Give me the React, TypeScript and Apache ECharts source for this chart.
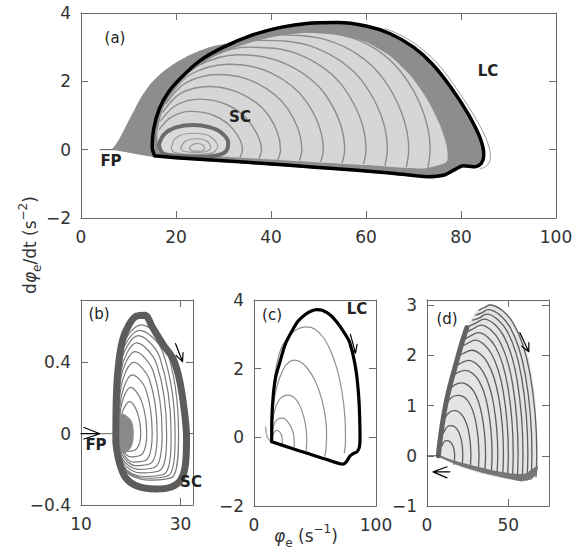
import React, { useEffect, useRef } from 'react';
import * as echarts from 'echarts';

const FONT = 'DejaVu Sans';

// ---------- Panel (a) ----------
const aRegionGray = [[6.5,0],[8,0.3],[9.5,0.7],[11,1.1],[12.5,1.5],[14.5,1.9],[17,2.25],[20,2.55],[23,2.78],[27,3.0],[31,3.12],[36,3.4],[42,3.62],[48,3.74],[54,3.76],[60,3.66],[65,3.44],[70,3.04],[74,2.54],[78,1.84],[81.5,1.09],[84.2,0.38],[85,-0.15],[84.5,-0.43],[83,-0.53],[80.5,-0.5],[78.5,-0.63],[76.5,-0.78],[73,-0.83],[65,-0.72],[50,-0.56],[35,-0.41],[20,-0.28],[15.2,-0.21],[6.5,0]];
const aStripe = [[16.3,-0.06],[16.1,0.5],[17.3,1.2],[20.3,1.9],[24.8,2.5],[30,2.86],[36,3.15],[42,3.34],[48,3.42],[54,3.38],[60,3.15],[65,2.75],[69.5,2.15],[73,1.45],[75.5,0.75],[77,0.1],[77,-0.35],[72,-0.55],[60,-0.45],[45,-0.33],[30,-0.21],[20,-0.13],[16.3,-0.06]];
const aArcs = [
  [[16.5,0.6],[19,0.95],[23,1.12],[28,1.0],[32,0.6],[34,0.0],[33.5,-0.22]],
  [[16.8,0.85],[20,1.3],[25,1.48],[31,1.3],[35.5,0.8],[38,0.0],[37.5,-0.25]],
  [[17.2,1.1],[21,1.65],[27,1.85],[34,1.62],[39.5,1.0],[42,0.0],[41.5,-0.28]],
  [[17.9,1.35],[22,1.95],[29,2.2],[37,1.95],[43.5,1.2],[46.5,0.0],[46,-0.31]],
  [[18.8,1.6],[23,2.2],[31,2.5],[40,2.25],[47.5,1.4],[51,0.0],[50.5,-0.34]],
  [[19.8,1.85],[24.5,2.45],[33,2.78],[43,2.52],[51.5,1.6],[55.5,0.0],[55,-0.38]],
  [[21,2.05],[26,2.62],[35,3.0],[46,2.78],[55.5,1.78],[60,0.0],[59.5,-0.41]],
  [[23,2.3],[29,2.82],[37.5,3.2],[49,3.0],[59.5,1.95],[64.5,0.0],[64,-0.45]],
  [[25.2,2.55],[31.5,3.0],[40,3.36],[52,3.2],[63.5,2.1],[69,0.0],[68.5,-0.5]],
  [[27.5,2.75],[33,3.12],[42,3.46],[55,3.35],[67.5,2.25],[73.5,0.0],[73,-0.55]],
  [[29.5,2.92],[35,3.25],[45,3.58],[58,3.45],[71.5,2.35],[78,0.0],[77.5,-0.6]],
];
const aSC = [[16.4,0.15],[17.5,0.45],[20,0.65],[23.6,0.72],[27,0.66],[29.5,0.5],[31,0.2],[30.5,-0.05],[28.5,-0.17],[25,-0.21],[20,-0.18],[17.2,-0.1],[16.4,0.15]];
const aSCInner = [
  [[19,0.05],[20,0.35],[23.5,0.48],[27,0.4],[28.8,0.1],[27.5,-0.1],[23.5,-0.14],[19.5,-0.07],[19,0.05]],
  [[21,0.05],[22,0.25],[24.3,0.32],[26.5,0.25],[27.3,0.05],[26.2,-0.06],[24,-0.08],[21.5,-0.04],[21,0.05]],
  [[22.8,0.04],[23.5,0.15],[24.7,0.18],[25.8,0.12],[26,0.02],[25.2,-0.04],[23.5,-0.04],[22.8,0.04]],
];
const aOuterThin = [[64,3.55],[68,3.3],[72,2.92],[75.5,2.45],[79,1.8],[82.5,1.05],[85.2,0.35],[86.2,-0.2],[85.6,-0.45],[84,-0.57]];
const aLC = [[15.5,-0.18],[15.0,0.05],[15.3,0.6],[16.5,1.2],[18.5,1.7],[21,2.1],[25,2.6],[30,3.0],[36,3.35],[42,3.58],[48,3.7],[54,3.72],[60,3.62],[65,3.4],[70,3.0],[74,2.5],[78,1.8],[81.5,1.05],[84,0.35],[84.8,-0.15],[84.3,-0.4],[83,-0.5],[80.5,-0.47],[78.5,-0.6],[76.5,-0.74],[73,-0.79],[65,-0.68],[50,-0.52],[35,-0.37],[20,-0.24],[15.5,-0.18]];
const aFP = [[4,0],[6.8,0]];

// ---------- Panel (b) ----------
const bSC = [[17.0,-0.05],[17.05,0.15],[17.4,0.35],[18.3,0.52],[19.6,0.61],[21.2,0.66],[22.8,0.665],[24.3,0.6],[26.5,0.5],[28.5,0.42],[29.8,0.3],[30.8,0.12],[31.2,-0.02],[31.0,-0.17],[30,-0.26],[28,-0.3],[25,-0.31],[21,-0.29],[18.8,-0.24],[17.6,-0.15],[17.0,-0.05]];
const bLoops = [
  [[17.8,0],[18.3,0.12],[19.8,0.18],[21.3,0.12],[22,0],[21.3,-0.08],[19.5,-0.1],[18.2,-0.06],[17.8,0]],
  [[17.7,0],[18.2,0.17],[20,0.26],[22.2,0.18],[23.2,0],[22.4,-0.11],[20,-0.13],[18.2,-0.08],[17.7,0]],
  [[17.6,0],[18.2,0.22],[20.3,0.33],[23,0.25],[24.3,0],[23.4,-0.14],[20.5,-0.16],[18.3,-0.1],[17.6,0]],
  [[17.5,0],[18.1,0.27],[20.6,0.4],[23.8,0.3],[25.3,0],[24.3,-0.16],[21,-0.18],[18.3,-0.12],[17.5,0]],
  [[17.4,0],[18,0.31],[20.9,0.46],[24.5,0.35],[26.3,0],[25.2,-0.18],[21.5,-0.2],[18.3,-0.14],[17.4,0]],
  [[17.35,0],[18,0.35],[21.2,0.51],[25.2,0.39],[27.2,0],[26.1,-0.2],[22,-0.22],[18.4,-0.16],[17.35,0]],
  [[17.3,0],[17.9,0.38],[21.5,0.55],[25.8,0.43],[28.1,0],[27,-0.22],[22.5,-0.24],[18.5,-0.18],[17.3,0]],
  [[17.25,0],[17.8,0.41],[21.8,0.58],[26.4,0.46],[28.9,0],[27.8,-0.23],[23,-0.25],[18.6,-0.19],[17.25,0]],
  [[17.2,0],[17.7,0.43],[22.1,0.61],[27,0.49],[29.6,0],[28.5,-0.24],[23.5,-0.26],[18.7,-0.2],[17.2,0]],
];
const bSmudge = [[17.2,-0.09],[17.2,0.08],[18.5,0.11],[20.2,0.07],[20.6,0.0],[20.2,-0.07],[18.8,-0.11],[17.2,-0.09]];
const bFP = [[13.8,0],[17.3,0]];
const bArrowSC = [[29.0,0.505],[30.4,0.404],[30.5,0.455],[30.4,0.404],[29.1,0.439]];
const bArrowFP = [[10,0],[13.8,0],[10.6,0.035],[13.8,0],[10.6,-0.03]];

// ---------- Panel (c) ----------
const cLC = [[14.5,-0.13],[14.6,0.5],[15.8,1.23],[18,1.8],[21.3,2.2],[25.5,2.7],[30.9,3.08],[36,3.38],[41.8,3.57],[47,3.68],[51.4,3.72],[56,3.7],[63,3.55],[68,3.35],[73,3.1],[78,2.8],[81.5,2.35],[84,1.85],[85.8,1.2],[86.6,0.6],[86.9,0.0],[86.4,-0.28],[84.5,-0.42],[81,-0.48],[78.5,-0.55],[76,-0.7],[73,-0.78],[60,-0.65],[45,-0.48],[30,-0.31],[14.5,-0.13]];
const cLoops = [
  [[15.6,1.3],[18.5,2.1],[23,2.65],[30,3.0],[36.5,3.17],[43,3.22],[50,3.15],[57,2.9],[63,2.5],[68,2.0],[72,1.35],[74.5,0.6],[75,-0.1],[74,-0.45]],
  [[15.4,0.75],[18.5,1.45],[24,1.98],[29,2.2],[33.6,2.25],[40,2.15],[47,1.85],[53,1.4],[57.5,0.8],[59.5,0.15],[59,-0.35],[58,-0.55]],
  [[15.2,0.4],[17.5,0.85],[22,1.15],[28,1.23],[34,1.12],[39,0.8],[42.3,0.35],[43.2,-0.1],[42.8,-0.38]],
  [[15,0.1],[16.5,0.38],[19.5,0.53],[23.5,0.56],[27.5,0.46],[31,0.25],[32.8,0.0],[33,-0.28]],
  [[14.8,0.0],[16.3,0.13],[18.5,0.2],[21,0.16],[22.8,0.03],[23.2,-0.2]],
];
const cPre = [[9.5,0.3],[10.5,0.05],[12.5,-0.08],[14.5,-0.13]];
const cArrow = [[79.0,3.0],[83.2,2.45],[84.5,2.71],[83.2,2.45],[78.4,2.65]];

// ---------- Panel (d) ----------
const dFill = [[8,0],[10,0.75],[12,1.1],[15,1.5],[18,1.85],[21,2.2],[24.5,2.55],[30,2.87],[35,2.98],[38.5,3.0],[45,2.92],[52,2.7],[58,2.35],[62.3,1.97],[65.5,1.4],[67.5,0.7],[68,0],[67,-0.4],[60,-0.5],[50,-0.47],[35,-0.37],[20,-0.22],[8,0]];
const dDomes = [
  [[9.2,0.2],[10.8,0.29],[12.5,0.3],[14.75,0.26],[16.3,0.17],[17,0.0],[16.7,-0.17]],
  [[10,0.45],[12.5,0.58],[15,0.6],[18.5,0.53],[21,0.33],[22,0.02],[21.6,-0.21]],
  [[11,0.75],[14,0.87],[17,0.9],[22,0.79],[25.5,0.5],[27,0.03],[26.6,-0.25]],
  [[12.3,1.05],[15.5,1.17],[19.5,1.2],[25.75,1.06],[30.1,0.66],[32,0.03],[31.5,-0.29]],
  [[13.5,1.3],[17,1.41],[21.5,1.45],[28.75,1.28],[33.8,0.8],[36,0.03],[35.5,-0.32]],
  [[15,1.55],[18.5,1.65],[23.5,1.7],[31.75,1.5],[37.5,0.94],[40,0.03],[39.5,-0.35]],
  [[16.5,1.75],[20.5,1.84],[25.5,1.9],[34.5,1.67],[40.8,1.05],[43.5,0.03],[43,-0.38]],
  [[18,1.95],[22.5,2.04],[27.5,2.1],[37.25,1.85],[44.1,1.16],[47,0.03],[46.5,-0.4]],
  [[20,2.15],[24.5,2.23],[29.5,2.3],[39.75,2.02],[46.9,1.27],[50,0.03],[49.5,-0.43]],
  [[22,2.3],[26.5,2.38],[31.5,2.45],[42.25,2.16],[49.8,1.35],[53,0.03],[52.5,-0.45]],
  [[24,2.45],[28,2.52],[33,2.6],[44.5,2.29],[52.6,1.43],[56,0.03],[55.5,-0.47]],
  [[26,2.58],[30,2.64],[35,2.72],[47,2.39],[55.4,1.5],[59,0.03],[58.5,-0.48]],
  [[28,2.7],[32,2.74],[36.5,2.82],[49.25,2.48],[58.2,1.55],[62,0.03],[61.5,-0.48]],
  [[30,2.8],[34,2.85],[37.5,2.91],[51,2.56],[60.5,1.6],[64.5,0.03],[64,-0.46]],
  [[32,2.9],[35.5,2.95],[38.5,3.0],[53,2.64],[63.2,1.65],[67.5,0.03],[67,-0.42]],
];
const dLeftBand = [[7,0],[8,0.3],[10,0.75],[12,1.1],[15,1.5],[18,1.85],[21,2.2],[24.5,2.55]];
const dBottomBand = [[7,-0.02],[20,-0.2],[35,-0.35],[50,-0.46],[58,-0.51],[64,-0.47],[67.5,-0.35],[68,-0.2],[60,-0.36],[45,-0.32],[30,-0.21],[15,-0.08],[7,0.02]];
const dFP = [[0,0],[7.5,0]];
const dArrowR = [[57.1,2.45],[62.6,2.07],[62.6,2.25],[62.6,2.07],[58.3,2.18]];
const dArrowL = [[14,-0.32],[3.7,-0.32],[12.3,-0.22],[3.7,-0.32],[12.3,-0.44]];

// ---------- axes ----------
const grids = [
  { left: 81, top: 13, width: 475, height: 205 },
  { left: 81, top: 300, width: 112, height: 205 },
  { left: 254, top: 300, width: 122, height: 206 },
  { left: 427, top: 300, width: 122, height: 206 },
];
const xRanges = [[0, 100, 20], [10, 32.5, 20], [0, 100, 100], [0, 75, 50]];
const yRanges = [[-2, 4, 2], [-0.4, 0.75, 0.4], [-2, 4, 2], [-1, 3.1, 1]];
const hideMax = [false, true, false, true];

const annotations = [
  { text: '(a)', x: 115, y: 38, bold: false },
  { text: 'LC', x: 488, y: 71, bold: true },
  { text: 'SC', x: 240, y: 117, bold: true },
  { text: 'FP', x: 111, y: 161, bold: true },
  { text: '(b)', x: 99, y: 314, bold: false },
  { text: 'FP', x: 96, y: 445, bold: true },
  { text: 'SC', x: 191, y: 482, bold: true },
  { text: '(c)', x: 272, y: 315, bold: false },
  { text: 'LC', x: 357, y: 309, bold: true },
  { text: '(d)', x: 447, y: 319, bold: false },
];

const AXC = '#6a6a6a';
const fmt = (v: number) => String(v).replace('-', '\u2212');

function axis(grid: number, r: number[], pos: string, labels: boolean, hm: boolean) {
  const label: any = { show: labels, color: '#333', fontSize: 17, fontFamily: FONT, margin: 10, formatter: fmt };
  if (hm) label.showMaxLabel = false;
  return {
    type: 'value', gridIndex: grid, min: r[0], max: r[1], interval: r[2], position: pos,
    axisLine: { show: true, onZero: false, lineStyle: { color: AXC, width: 1 } },
    axisTick: { show: true, inside: true, length: 7, lineStyle: { color: AXC } },
    axisLabel: label,
    splitLine: { show: false },
  };
}

function buildOption() {
  const xAxis: any[] = [];
  const yAxis: any[] = [];
  for (let p = 0; p < 4; p++) {
    xAxis.push(axis(p, xRanges[p], 'bottom', true, hideMax[p]));
    xAxis.push(axis(p, xRanges[p], 'top', false, false));
    yAxis.push(axis(p, yRanges[p], 'left', true, hideMax[p]));
    yAxis.push(axis(p, yRanges[p], 'right', false, false));
  }
  const series: any[] = [];
  let z = 2;
  const line = (p: number, data: number[][], color: string, width: number, smooth: any = 0.35) => {
    series.push({
      type: 'line', xAxisIndex: 2 * p, yAxisIndex: 2 * p, data, symbol: 'none', showSymbol: false,
      smooth, lineStyle: { color, width, cap: 'round', join: 'round' }, silent: true, z: z++, clip: false,
    });
  };
  const poly = (p: number, pts: number[][], fill: string, smooth = 0.3) => {
    series.push({
      type: 'custom', xAxisIndex: 2 * p, yAxisIndex: 2 * p, data: [pts[0]], silent: true, z: z++,
      renderItem: (_params: any, api: any) => ({
        type: 'polygon',
        shape: { points: pts.map((q) => api.coord(q)), smooth },
        style: { fill, stroke: 'none' },
      }),
    });
  };

  // (a)
  poly(0, aRegionGray, '#8d8d8d', 0.2);
  poly(0, aStripe, '#d6d6d6', 0.2);
  poly(0, aSC, '#dadada', 0.3);
  aArcs.forEach((arc) => line(0, arc, '#8d8d8d', 1.4));
  aSCInner.forEach((l) => line(0, l, '#999999', 1.2));
  line(0, aSC, '#6b6b6b', 4);
  line(0, aOuterThin, '#9a9a9a', 1);
  line(0, aLC, '#000000', 3.5, 0.25);
  line(0, aFP, '#555555', 1, false);

  // (b)
  bLoops.forEach((l) => line(1, l, '#7a7a7a', 1.2));
  poly(1, bSmudge, '#8a8a8a', 0.3);
  line(1, bFP, '#8a8a8a', 1.2, false);
  line(1, bSC, '#5c5c5c', 7);
  line(1, bArrowSC, '#000000', 1.2, false);
  line(1, bArrowFP, '#000000', 1.2, false);

  // (c)
  cLoops.forEach((l) => line(2, l, '#8f8f8f', 1.2));
  line(2, cPre, '#aaaaaa', 1.5);
  line(2, cLC, '#000000', 3.2, 0.25);
  line(2, cArrow, '#000000', 1.2, false);

  // (d)
  poly(3, dFill, '#e4e4e4', 0.2);
  dDomes.forEach((l) => line(3, l, '#5e5e5e', 1.3));
  poly(3, dBottomBand, '#767676', 0.2);
  line(3, dLeftBand, '#626262', 5);
  line(3, dFP, '#555555', 1, false);
  line(3, dArrowR, '#000000', 1.2, false);
  line(3, dArrowL, '#000000', 1.2, false);

  const graphic: any[] = annotations.map((a) => ({
    type: 'text', x: a.x, y: a.y, z: 100,
    style: {
      text: a.text, fontSize: 15, fontWeight: a.bold ? 'bold' : 'normal', fontFamily: FONT,
      fill: '#222', align: 'center', verticalAlign: 'middle',
    },
  }));
  const richBase = { fontFamily: FONT, fill: '#333', color: '#333' };
  graphic.push({
    type: 'text', x: 30, y: 245, rotation: Math.PI / 2, z: 100,
    style: {
      text: 'd{i|\u03c6}{sub|e}/dt (s{sup|\u22122})', fontSize: 17, fontFamily: FONT, fill: '#333',
      align: 'center', verticalAlign: 'middle', lineHeight: 26,
      rich: {
        i: { ...richBase, fontSize: 17, fontStyle: 'italic', lineHeight: 26 },
        sub: { ...richBase, fontSize: 12, verticalAlign: 'bottom', lineHeight: 12 },
        sup: { ...richBase, fontSize: 12, verticalAlign: 'top', lineHeight: 12 },
      },
    },
  });
  graphic.push({
    type: 'text', x: 306, y: 536, z: 100,
    style: {
      text: '{i|\u03c6}{sub|e} (s{sup|\u22121})', fontSize: 17, fontFamily: FONT, fill: '#333',
      align: 'center', verticalAlign: 'middle', lineHeight: 26,
      rich: {
        i: { ...richBase, fontSize: 17, fontStyle: 'italic', lineHeight: 26 },
        sub: { ...richBase, fontSize: 12, verticalAlign: 'bottom', lineHeight: 12 },
        sup: { ...richBase, fontSize: 12, verticalAlign: 'top', lineHeight: 12 },
      },
    },
  });

  return {
    animation: false,
    backgroundColor: '#ffffff',
    grid: grids,
    xAxis,
    yAxis,
    series,
    graphic,
  };
}

export default function App() {
  const ref = useRef<HTMLDivElement>(null);
  useEffect(() => {
    const chart = echarts.init(ref.current as HTMLDivElement, undefined, { renderer: 'svg' });
    chart.setOption(buildOption() as any);
    return () => chart.dispose();
  }, []);
  return (
    <div
      ref={ref}
      style={{ position: 'fixed', left: 0, top: 0, width: 577, height: 550, background: '#fff' }}
    />
  );
}
